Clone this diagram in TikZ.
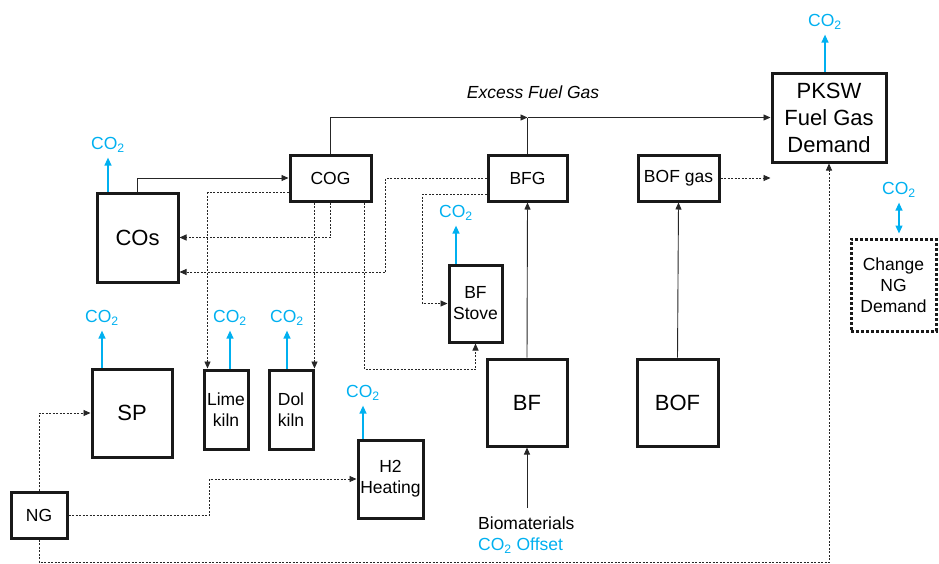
\documentclass[tikz,border=0pt]{standalone}
\usepackage{fontspec}
\setmainfont{Liberation Sans}
\usetikzlibrary{arrows.meta, calc}
\definecolor{co2blue}{RGB}{0,176,240}
\newcommand{\cotwo}{CO\textsubscript{2}}

\begin{document}
\begin{tikzpicture}[
        x=1pt, y=-1pt,
        >={Triangle[length=7pt,width=6pt]},
        box/.style={draw=black!90, line width=3pt, inner sep=0pt, align=center, font=\fontsize{17.5}{21}\selectfont},
        bigbox/.style={box, font=\fontsize{22}{27}\selectfont},
        flow/.style={->, line width=0.9pt, draw=black!85},
        gas/.style={flow, dash pattern=on 2pt off 1.5pt},
        emit/.style={->, line width=1.3pt, draw=co2blue, shorten >=4pt, >={Triangle[length=8pt,width=7pt]}},
        co2/.style={text=co2blue, font=\fontsize{17.5}{20}\selectfont, inner sep=1pt},
        lab/.style={font=\fontsize{17.5}{21}\selectfont, inner sep=0pt}
    ]
        \useasboundingbox (0,0) rectangle (939,563);

        \node[bigbox, minimum width=81pt, minimum height=89pt] (cos) at (137.5,237.5) {COs};
        \node[box, minimum width=81pt, minimum height=46pt] (cog) at (330.5,178) {COG};
        \node[box, minimum width=79pt, minimum height=46pt] (bfg) at (527.5,178) {BFG};
        \node[box, minimum width=81pt, minimum height=46pt] (bofgas) at (678.5,178) {BOF gas};
        \node[bigbox, minimum width=114pt, minimum height=89pt] (pksw) at (829,117.5) {PKSW\\Fuel Gas\\Demand};
        \node[box, dash pattern=on 3pt off 2pt, minimum width=85pt, minimum height=92pt] (chg) at (893.5,285) {Change\\NG\\Demand};
        \node[box, minimum width=53pt, minimum height=77pt] (stove) at (475.5,303.5) {BF\\Stove};
        \node[bigbox, minimum width=80pt, minimum height=87pt] (bf) at (527,402.5) {BF};
        \node[bigbox, minimum width=81pt, minimum height=87pt] (bof) at (677.5,402.5) {BOF};
        \node[bigbox, minimum width=80pt, minimum height=88pt] (sp) at (132,413) {SP};
        \node[box, minimum width=44pt, minimum height=79pt] (lime) at (226,409.5) {Lime\\kiln};
        \node[box, minimum width=44pt, minimum height=79pt] (dol) at (291,409.5) {Dol\\kiln};
        \node[box, minimum width=56pt, minimum height=46pt] (ng) at (39,515) {NG};
        \node[box, minimum width=65pt, minimum height=78pt] (h2) at (390.5,479) {H2\\Heating};
        \node[lab, align=left, anchor=north west] (bio) at (478,517) {Biomaterials\\\textcolor{co2blue}{\cotwo{} Offset}};
        \node[lab, font=\fontsize{17.5}{21}\selectfont\itshape] (excess) at (533,92) {Excess Fuel Gas};

        \node[co2] (cos-c) at (108,145) {\cotwo};
        \node[co2] (sp-c) at (102,318) {\cotwo};
        \node[co2] (lime-c) at (230,318) {\cotwo};
        \node[co2] (dol-c) at (287,318) {\cotwo};
        \node[co2] (h2-c) at (363,393) {\cotwo};
        \node[co2] (stove-c) at (456,213) {\cotwo};
        \node[co2] (pksw-c) at (825,22) {\cotwo};
        \node[co2] (chg-c) at (899,190) {\cotwo};

        \draw[emit] (cos-c.south |- cos.north) -- (cos-c.south);
        \draw[emit] (sp-c.south |- sp.north) -- (sp-c.south);
        \draw[emit] (lime-c.south |- lime.north) -- (lime-c.south);
        \draw[emit] (dol-c.south |- dol.north) -- (dol-c.south);
        \draw[emit] (h2-c.south |- h2.north) -- (h2-c.south);
        \draw[emit] (stove-c.south |- stove.north) -- (stove-c.south);
        \draw[emit] (pksw-c.south |- pksw.north) -- (pksw-c.south);
        \draw[emit, <->, shorten <=4pt] (chg-c.south |- chg.north) -- (chg-c.south);

        \coordinate (join) at (bfg.north |- pksw.west);
        \coordinate (bofgas-end) at (bofgas.east -| pksw.west);
        \draw[flow] (cos.north) |- (cog.west);
        \draw[flow] (cog.north) |- (join);
        \draw[flow] (join) -- (pksw.west);
        \draw[flow, -] (bfg.north) -- (join);
        \draw[flow] (bf.south |- bio.north) ++(0,-9) -- (bf.south);
        \draw[flow] (bf.north) -- (bfg.south);
        \draw[flow] (bof.north) -- (bofgas.south);
        \draw[gas] (bofgas.east) -- (bofgas-end);

        \draw[gas] ([yshift=10pt]cog.south west) -| ([xshift=5pt]lime.north west);
        \draw[gas] (cog.south) |- (cos.east);
        \draw[gas] (dol.north east |- cog.south) -- (dol.north east);
        \draw[gas] ([xshift=-8pt]cog.south east) -- ++(0,167) -| (stove.south);
        \draw[gas] (bfg.west) -- ++(-101,0) |- ([yshift=-34.5pt]cos.east);
        \draw[gas] ([yshift=-16pt]bfg.west) -- ++(-64,0) |- (stove.west);

        \draw[gas] (ng.north) |- (sp.west);
        \draw[gas] (ng.east) -- ++(141,0) |- (h2.west);
        \draw[gas] (ng.south) -- ++(0,23) -| (pksw.south);
    \end{tikzpicture}
\end{document}
